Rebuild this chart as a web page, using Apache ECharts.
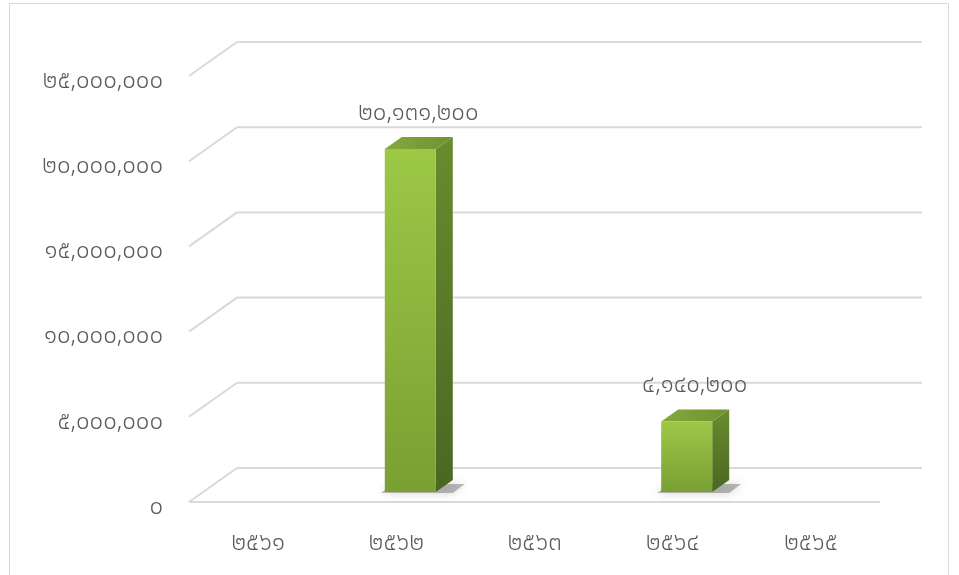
<!DOCTYPE html>
<html>
<head>
<meta charset="utf-8">
<script src="https://cdn.jsdelivr.net/npm/echarts@6/dist/echarts.min.js"></script>
<style>
html,body{margin:0;padding:0;background:#fff;}
#chart{width:959px;height:575px;}
</style>
</head>
<body>
<div id="chart"></div>
<script>
// ---- data ----
const categories = ['๒๕๖๑', '๒๕๖๒', '๒๕๖๓', '๒๕๖๔', '๒๕๖๕'];
const values = [0, 20131200, 0, 4140200, 0];
const yMin = 0;
const yMax = 25000000;
const yInterval = 5000000;
const yTicks = [0, 5000000, 10000000, 15000000, 20000000, 25000000];

// ---- helpers ----
const THAI = ['๐','๑','๒','๓','๔','๕','๖','๗','๘','๙'];
function thaiNum(n) {
  const s = Math.round(n).toString().replace(/\B(?=(\d{3})+(?!\d))/g, ',');
  return s.replace(/[0-9]/g, d => THAI[+d]);
}

const FONT = '"Noto Sans Thai", "Noto Sans Thai Looped", Loma, Garuda, Norasi, "Noto Sans", sans-serif';
const FS = 24;
const TXT = '#595959';
const GRID_C = '#d9d9d9';
// 3D geometry
const DX = 48, DY = -34;      // front plane -> back wall
const BX = 14, BY = -10;      // front plane -> bar plane
const BW = 51;                // bar front width
const DDX = 17, DDY = -12;    // bar depth

const chart = echarts.init(document.getElementById('chart'));

const option = {
  backgroundColor: '#fff',
  animation: false,
  graphic: [{
    type: 'rect',
    shape: { x: 9.5, y: 3.5, width: 939, height: 600 },
    style: { fill: 'none', stroke: '#d9d9d9', lineWidth: 1 },
    silent: true
  }],
  grid: { left: 189, right: 79, top: 76, bottom: 73 },
  xAxis: {
    type: 'category',
    data: categories,
    axisLine: { show: false },
    axisTick: { show: false },
    splitLine: { show: false },
    axisLabel: { color: TXT, fontSize: FS, fontWeight: 300, fontFamily: FONT, margin: 31 }
  },
  yAxis: {
    type: 'value',
    min: yMin, max: yMax, interval: yInterval,
    axisLine: { show: false },
    axisTick: { show: false },
    splitLine: { show: false },
    axisLabel: { color: TXT, fontSize: FS, fontWeight: 300, fontFamily: FONT, margin: 26,
                 verticalAlign: 'top', lineHeight: 14, formatter: v => thaiNum(v) }
  },
  series: [
    {
      type: 'custom',
      silent: true,
      z: 1,
      data: yTicks.map(v => [0, v]),
      renderItem: function (params, api) {
        const cs = params.coordSys;
        const y = api.coord([0, api.value(1)])[1];
        const x0 = cs.x, x1 = cs.x + cs.width;
        const st = { stroke: GRID_C, lineWidth: 2 };
        const ch = [
          { type: 'line', shape: { x1: x0, y1: y, x2: x0 + DX, y2: y + DY }, style: st },
          { type: 'line', shape: { x1: x0 + DX, y1: y + DY, x2: x1 + 42, y2: y + DY }, style: st }
        ];
        if (api.value(1) === 0) {
          ch.push({ type: 'line', shape: { x1: x0, y1: y, x2: x1, y2: y }, style: st });
        }
        return { type: 'group', children: ch };
      }
    },
    {
      type: 'custom',
      z: 2,
      data: values.map((v, i) => [i, v]),
      renderItem: function (params, api) {
        const v = api.value(1);
        if (!v) return null;
        const c = api.coord([api.value(0), v]);
        const b = api.coord([api.value(0), 0]);
        const cx = c[0] + BX;
        const l = cx - BW / 2, r = cx + BW / 2;
        const t = c[1] + BY, bt = b[1] + BY;
        const back = c[1] + DY;
        return {
          type: 'group',
          children: [
            { type: 'polygon',
              shape: { points: [[l - 4, bt + 1], [l + 8, bt - 8], [r + DDX + 12, bt - 8], [r + DDX, bt + 1]] },
              style: { fill: 'rgba(70,70,70,0.35)', shadowBlur: 10, shadowColor: 'rgba(0,0,0,0.5)' } },
            { type: 'polygon',
              shape: { points: [[r, t], [r + DDX, t + DDY], [r + DDX, bt + DDY], [r, bt]] },
              style: { fill: new echarts.graphic.LinearGradient(0, 0, 0, 1, [
                { offset: 0, color: '#688c2e' }, { offset: 1, color: '#4b6622' }]) } },
            { type: 'polygon',
              shape: { points: [[l, t], [l + DDX, t + DDY], [r + DDX, t + DDY], [r, t]] },
              style: { fill: new echarts.graphic.LinearGradient(0, 0, 1, 0, [
                { offset: 0, color: '#82aa3c' }, { offset: 1, color: '#6d9330' }]) } },
            { type: 'rect',
              shape: { x: l, y: t, width: BW, height: bt - t },
              style: { fill: new echarts.graphic.LinearGradient(0, 0, 0, 1, [
                { offset: 0, color: '#9cc846' }, { offset: 1, color: '#7a9f33' }]) } },
            { type: 'text',
              style: { x: cx + 8, y: back - 10, text: thaiNum(v), fill: TXT, fontSize: FS, fontWeight: 300, fontFamily: FONT,
                       align: 'center', verticalAlign: 'middle' } }
          ]
        };
      }
    }
  ]
};
chart.setOption(option);
</script>
</body>
</html>
